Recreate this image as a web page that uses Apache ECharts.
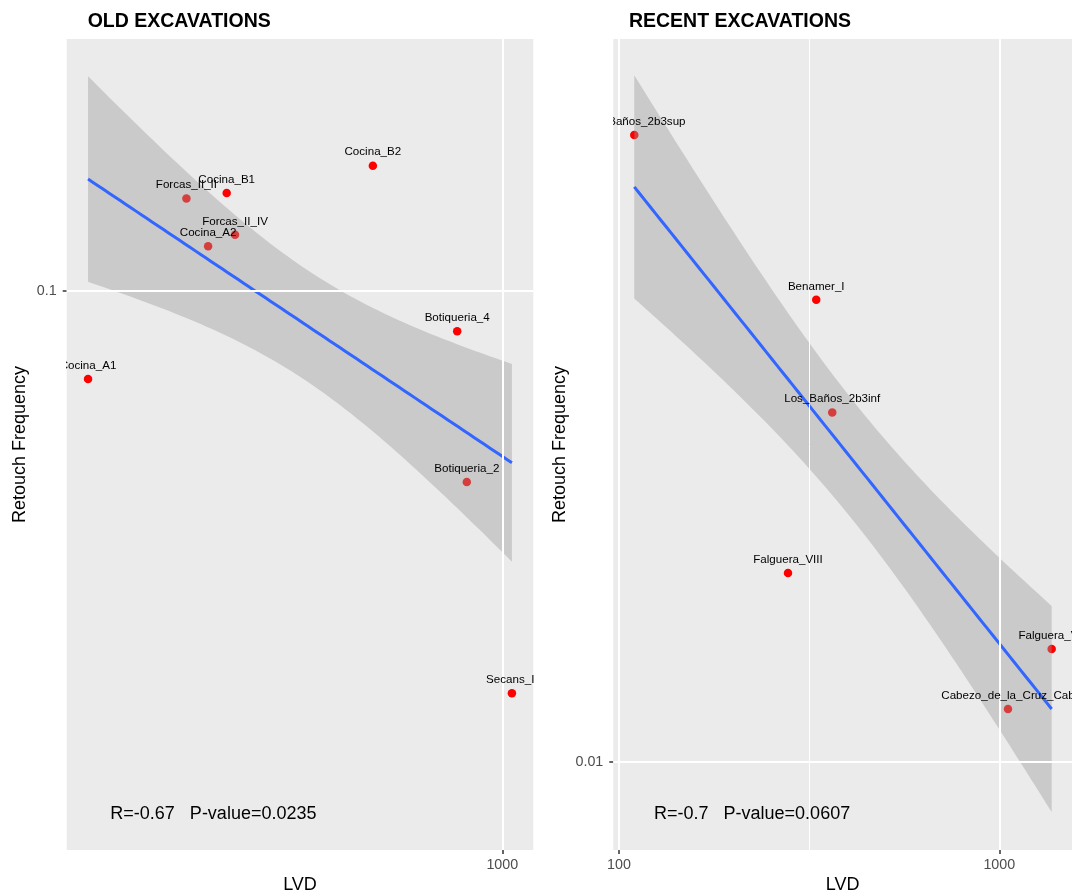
<!DOCTYPE html>
<html>
<head>
<meta charset="utf-8">
<title>Retouch frequency vs LVD</title>
<script src="https://cdn.jsdelivr.net/npm/echarts@6/dist/echarts.min.js"></script>
<style>
  html, body { margin: 0; padding: 0; background: #ffffff; }
  #chart { width: 1072px; height: 894px; }
</style>
</head>
<body>
<div id="chart"></div>
<script>
// ---- Old excavations -------------------------------------------------------
const oldSites = ['Cocina_A1', 'Cocina_A2', 'Cocina_B1', 'Cocina_B2', 'Forcas_II_II',
                  'Forcas_II_IV', 'Botiqueria_4', 'Botiqueria_2', 'Secans_II'];
const oldLVD = [159.7, 271.8, 295.1, 563.7, 246.9, 306.2, 818.9, 854.5, 1043.4];
const oldRetouch = [0.0748, 0.1158, 0.1379, 0.1509, 0.1355, 0.1202, 0.0875, 0.0533, 0.0266];
const oldStats = 'R=-0.67   P-value=0.0235';
const oldXTicks = [1000];
const oldYTicks = [0.1];

// ---- Recent excavations ----------------------------------------------------
const recentSites = ['Los_Baños_2b3sup', 'Benamer_I', 'Los_Baños_2b3inf', 'Falguera_VIII',
                     'Falguera_VII', 'Cabezo_de_la_Cruz_Cab'];
const recentLVD = [109.7, 330.1, 363.7, 278.2, 1373.1, 1054.1];
const recentRetouch = [0.04973, 0.03262, 0.02446, 0.016218, 0.013351, 0.011450];
const recentStats = 'R=-0.7   P-value=0.0607';
const recentXTicks = [100, 1000];
const recentYTicks = [0.01];

// two-sided 70% Student t critical values, keyed by residual degrees of freedom
const T_CRIT = { 4: 1.190, 7: 1.119 };

const FONT = '"Liberation Sans", Arimo, Arial, Helvetica, sans-serif';
const log10 = Math.log10;

// Ordinary least squares on log10-log10 values with a confidence band,
// evaluated at evenly spaced positions across the x range.
function smoothFit(xs, ys, steps) {
  const n = xs.length;
  const mx = xs.reduce((a, b) => a + b, 0) / n;
  const my = ys.reduce((a, b) => a + b, 0) / n;
  let sxx = 0, sxy = 0;
  for (let i = 0; i < n; i++) {
    sxx += (xs[i] - mx) * (xs[i] - mx);
    sxy += (xs[i] - mx) * (ys[i] - my);
  }
  const slope = sxy / sxx;
  const icpt = my - slope * mx;
  let sse = 0;
  for (let i = 0; i < n; i++) {
    const r = ys[i] - (icpt + slope * xs[i]);
    sse += r * r;
  }
  const s = Math.sqrt(sse / (n - 2));
  const t = T_CRIT[n - 2];
  const lo = Math.min(...xs), hi = Math.max(...xs);
  const fit = [], upper = [], lower = [];
  for (let k = 0; k < steps; k++) {
    const x = lo + (hi - lo) * k / (steps - 1);
    const yhat = icpt + slope * x;
    const se = s * Math.sqrt(1 / n + (x - mx) * (x - mx) / sxx);
    fit.push([x, yhat]);
    upper.push([x, yhat + t * se]);
    lower.push([x, yhat - t * se]);
  }
  return { fit, upper, lower };
}

const panels = [
  {
    title: 'OLD EXCAVATIONS', sites: oldSites, lvd: oldLVD, freq: oldRetouch, stats: oldStats,
    xTicks: oldXTicks, yTicks: oldYTicks,
    xRange: [145.3, 1147.1], yRange: [0.015888, 0.22891],
    grid: { left: 66.7, top: 39, width: 466.6, height: 811 },
    titleLeft: 87.7, statsX: 213.4, yNameGap: 37.3
  },
  {
    title: 'RECENT EXCAVATIONS', sites: recentSites, lvd: recentLVD, freq: recentRetouch, stats: recentStats,
    xTicks: recentXTicks, yTicks: recentYTicks,
    xRange: [96.61, 1553.0], yRange: [0.0079852, 0.063574],
    grid: { left: 613.3, top: 39, width: 458.7, height: 811 },
    titleLeft: 628.9, statsX: 752.1, yNameGap: 44.1
  }
];

const tickText = v => String(+Math.pow(10, v).toPrecision(6));

const option = {
  animation: false,
  backgroundColor: '#ffffff',
  title: [], grid: [], xAxis: [], yAxis: [], series: [], graphic: []
};

panels.forEach((p, i) => {
  const lx = p.lvd.map(log10);
  const ly = p.freq.map(log10);
  const band = smoothFit(lx, ly, 80);
  const xTickLog = p.xTicks.map(log10);
  const yTickLog = p.yTicks.map(log10);
  // minor grid lines sit halfway (in log space) between neighbouring major ticks
  const xMinor = [];
  for (let k = 1; k < xTickLog.length; k++) xMinor.push((xTickLog[k - 1] + xTickLog[k]) / 2);

  option.grid.push(Object.assign({
    show: true, backgroundColor: '#EBEBEB', borderWidth: 0,
    containLabel: false, outerBoundsMode: 'none'
  }, p.grid));

  option.title.push({
    text: p.title, left: p.titleLeft, top: 11.5, padding: 0,
    textStyle: { fontFamily: FONT, fontSize: 19.5, fontWeight: 'bold', color: '#000000' }
  });

  option.xAxis.push({
    type: 'value', gridIndex: i,
    min: log10(p.xRange[0]), max: log10(p.xRange[1]),
    name: 'LVD', nameLocation: 'middle', nameGap: 26.5, nameMoveOverlap: false,
    nameTextStyle: { fontFamily: FONT, fontSize: 18, color: '#000000' },
    axisLine: { show: false },
    axisTick: { show: true, customValues: xTickLog, length: 4,
                lineStyle: { color: '#333333', width: 1.5 } },
    axisLabel: { show: true, customValues: xTickLog, formatter: tickText,
                 color: '#4D4D4D', fontFamily: FONT, fontSize: 14.3, margin: 8.4 },
    splitLine: { show: false }, minorTick: { show: false }, minorSplitLine: { show: false }
  });

  option.yAxis.push({
    type: 'value', gridIndex: i,
    min: log10(p.yRange[0]), max: log10(p.yRange[1]),
    name: 'Retouch Frequency', nameLocation: 'middle', nameGap: p.yNameGap, nameRotate: 90,
    nameMoveOverlap: false,
    nameTextStyle: { fontFamily: FONT, fontSize: 18, color: '#000000' },
    axisLine: { show: false },
    axisTick: { show: true, customValues: yTickLog, length: 4,
                lineStyle: { color: '#333333', width: 1.5 } },
    axisLabel: { show: true, customValues: yTickLog, formatter: tickText,
                 color: '#4D4D4D', fontFamily: FONT, fontSize: 14.3, margin: 10 },
    splitLine: { show: false }, minorTick: { show: false }, minorSplitLine: { show: false }
  });

  // panel grid lines
  option.series.push({
    type: 'line', xAxisIndex: i, yAxisIndex: i, data: [], z: 1, silent: true,
    markLine: {
      silent: true, symbol: 'none', label: { show: false }, animation: false,
      lineStyle: { color: '#ffffff', width: 2, type: 'solid' },
      emphasis: { disabled: true },
      data: xTickLog.map(v => ({ xAxis: v }))
        .concat(yTickLog.map(v => ({ yAxis: v })))
        .concat(xMinor.map(v => ({ xAxis: v, lineStyle: { width: 1, color: '#ffffff' } })))
    }
  });

  // site points
  option.series.push({
    type: 'scatter', xAxisIndex: i, yAxisIndex: i, z: 2, silent: true,
    symbol: 'circle', symbolSize: 8.5,
    itemStyle: { color: '#FF0000', borderWidth: 0, opacity: 1 },
    data: lx.map((x, k) => [x, ly[k]])
  });

  // confidence band of the log-log regression
  option.series.push({
    type: 'custom', xAxisIndex: i, yAxisIndex: i, z: 3, silent: true, clip: true,
    data: [band.fit[0]],
    renderItem: (params, api) => {
      const pts = band.upper.map(d => api.coord(d))
        .concat(band.lower.slice().reverse().map(d => api.coord(d)));
      return { type: 'polygon', shape: { points: pts },
               style: { fill: 'rgba(153,153,153,0.4)', stroke: 'none' } };
    }
  });

  // fitted line
  option.series.push({
    type: 'line', xAxisIndex: i, yAxisIndex: i, z: 4, silent: true,
    showSymbol: false, symbol: 'none', clip: true,
    lineStyle: { color: '#3366FF', width: 3 },
    data: band.fit
  });

  // site labels, clipped to the panel
  option.series.push({
    type: 'custom', xAxisIndex: i, yAxisIndex: i, z: 5, silent: true, clip: true,
    data: lx.map((x, k) => [x, ly[k], k]),
    renderItem: (params, api) => {
      const c = api.coord([api.value(0), api.value(1)]);
      return {
        type: 'text', x: c[0], y: c[1] - 7.5,
        style: { text: p.sites[api.value(2)], fill: '#000000', fontFamily: FONT, fontSize: 11.6,
                 align: 'center', verticalAlign: 'bottom', textAlign: 'center', textVerticalAlign: 'bottom' }
      };
    }
  });

  option.graphic.push({
    type: 'text', x: p.statsX, y: 814, silent: true, z: 10,
    style: { text: p.stats, fill: '#000000', fontFamily: FONT, fontSize: 18,
             align: 'center', verticalAlign: 'middle', textAlign: 'center', textVerticalAlign: 'middle' }
  });
});

const chart = echarts.init(document.getElementById('chart'), null, { renderer: 'canvas' });
chart.setOption(option);
</script>
</body>
</html>
